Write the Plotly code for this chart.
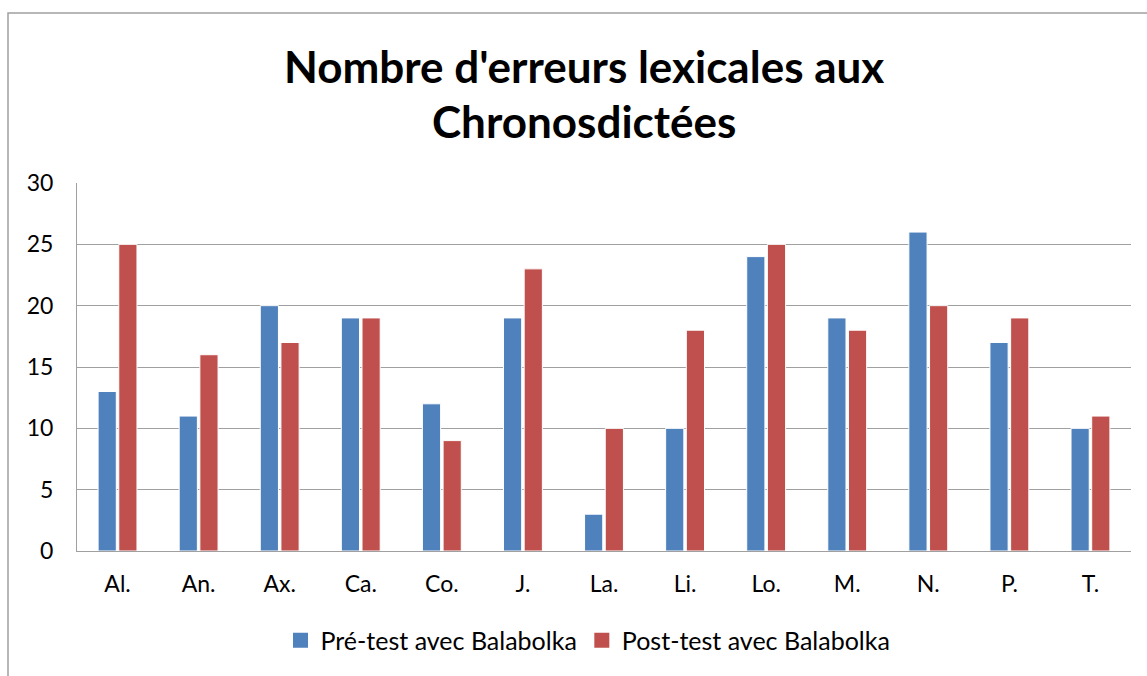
import plotly.graph_objects as go

categories = ["Al.", "An.", "Ax.", "Ca.", "Co.", "J.", "La.", "Li.", "Lo.", "M.", "N.", "P.", "T."]
pre_test = [13, 11, 20, 19, 12, 19, 3, 10, 24, 19, 26, 17, 10]
post_test = [25, 16, 17, 19, 9, 23, 10, 18, 25, 18, 20, 19, 11]
series_names = ["Pré-test avec Balabolka", "Post-test avec Balabolka"]
series_colors = ["#4F81BD", "#C0504D"]
title_lines = ["Nombre d'erreurs lexicales aux", "Chronosdictées"]
y_ticks = [0, 5, 10, 15, 20, 25, 30]

FONT = "Lato"

fig = go.Figure()
for vals, name, col in zip([pre_test, post_test], series_names, series_colors):
    fig.add_trace(go.Bar(x=categories, y=vals, name=name, showlegend=False,
                         marker=dict(color=col, line=dict(color="white", width=1))))
# legend proxies (larger square swatches)
for name, col in zip(series_names, series_colors):
    fig.add_trace(go.Scatter(x=[None], y=[None], mode="markers", name=name,
                             marker=dict(symbol="square", size=15, color=col)))

W, H = 1147, 676
L, R, T, B = 77, 16, 183, 123
pw, ph = W - L - R, H - T - B


def py(pix):
    return (T + ph - pix) / ph


def px(pix):
    return (pix - L) / pw


annotations = [
    dict(text="<b>" + title_lines[0] + "</b>", xref="paper", yref="paper",
         x=px(584), y=py(65), xanchor="center", yanchor="middle", showarrow=False,
         font=dict(family=FONT, size=44, color="black")),
    dict(text="<b>" + title_lines[1] + "</b>", xref="paper", yref="paper",
         x=px(584), y=py(121), xanchor="center", yanchor="middle", showarrow=False,
         font=dict(family=FONT, size=44, color="black")),
]

fig.update_layout(
    width=W, height=H,
    margin=dict(l=L, r=R, t=T, b=B),
    paper_bgcolor="white", plot_bgcolor="white",
    barmode="group", bargap=0.49, bargroupgap=0.12,
    font=dict(family=FONT, size=23, color="black"),
    legend=dict(orientation="h", x=px(588), xanchor="center",
                y=py(643), yanchor="middle",
                font=dict(family=FONT, size=25, color="black"),
                itemwidth=30, traceorder="normal"),
    xaxis=dict(showgrid=False, showline=True, linecolor="#A0A0A0", linewidth=1,
               ticks="", tickfont=dict(size=23), ticklabelstandoff=12),
    yaxis=dict(range=[0, 30], tickvals=y_ticks, showgrid=True, gridcolor="#A0A0A0",
               gridwidth=1, showline=True, linecolor="#A0A0A0", linewidth=1,
               ticks="", ticklabelstandoff=18, tickfont=dict(size=23), zeroline=False),
    annotations=annotations,
    shapes=[dict(type="rect", xref="paper", yref="paper",
                 x0=px(8), x1=px(W + 5),
                 y0=py(H + 5), y1=py(12),
                 line=dict(color="#A0A0A0", width=1.5), fillcolor="rgba(0,0,0,0)",
                 layer="below")],
)

fig.write_html("out.html", config={"displayModeBar": False},
               post_script="document.body.style.margin='0px';")
